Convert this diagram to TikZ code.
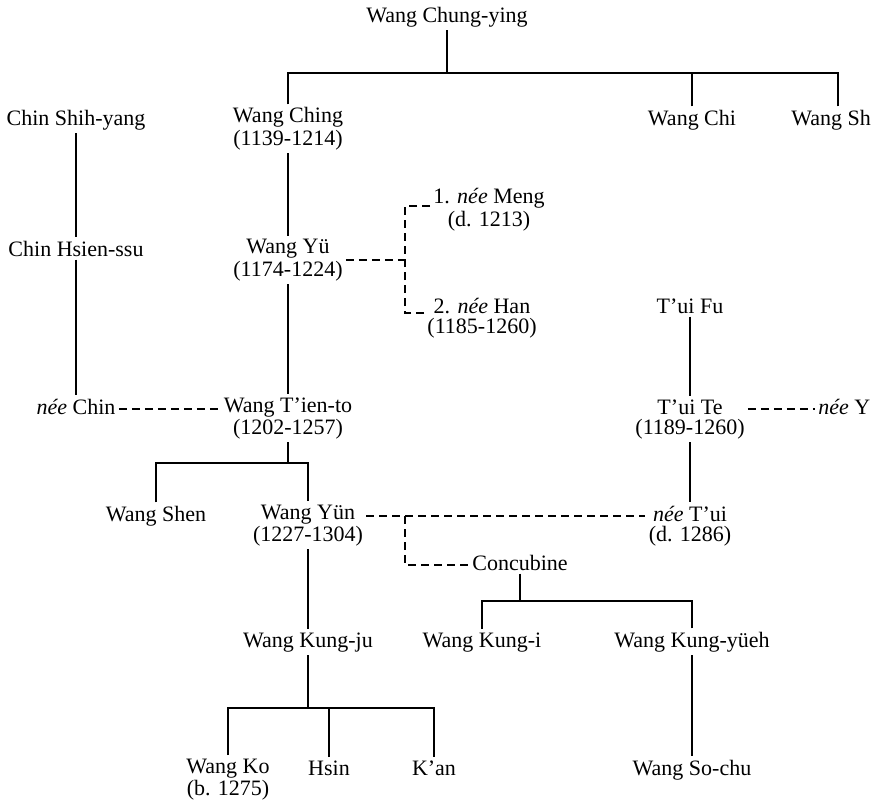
\documentclass[tikz,border=0pt]{standalone}
\usepackage{fontspec}
\setmainfont{Liberation Serif}
\usepackage{tikz}
\usetikzlibrary{positioning, calc}

\begin{document}
\begin{tikzpicture}[x=0.5pt, y=-0.5pt,
    person/.style={font=\fontsize{11}{10}\selectfont, align=center, inner sep=1.5pt, anchor=base},
    descent/.style={line width=1pt},
    marriage/.style={line width=1pt, dash pattern=on 4pt off 2.5pt}]
    \useasboundingbox (0,0) rectangle (873,805);

    % Nodes (two-line nodes sit on the base of their last line)
    \node[person] (chungying) at (447,22) {Wang Chung-ying};

    \node[person] (shihyang) at (76,125) {Chin Shih-yang};
    \node[person] (ching) at (288,145) {Wang Ching\\(1139-1214)};
    \node[person] (chi) at (692,125) {Wang Chi};
    \node[person, anchor=base west] (wangsh) at (788,125) {Wang Sh};

    \node[person] (meng) at (489,226) {1. \textit{née} Meng\\(d. 1213)};
    \node[person] (hsienssu) at (76,256) {Chin Hsien-ssu};
    \node[person] (yu) at (288,276) {Wang Yü\\(1174-1224)};
    \node[person] (han) at (482,333) {2. \textit{née} Han\\(1185-1260)};
    \node[person] (tuifu) at (690,313) {T’ui Fu};

    \node[person] (neechin) at (76,414) {\textit{née} Chin};
    \node[person] (tiento) at (288,434) {Wang T’ien-to\\(1202-1257)};
    \node[person] (tuite) at (690,434) {T’ui Te\\(1189-1260)};
    \node[person, anchor=base west] (neey) at (815,414) {\textit{née} Y};

    \node[person] (shen) at (156,521) {Wang Shen};
    \node[person] (yun) at (308,541) {Wang Yün\\(1227-1304)};
    \node[person] (neetui) at (690,541) {\textit{née} T’ui\\(d. 1286)};
    \node[person] (concubine) at (520,570) {Concubine};

    \node[person] (kungju) at (308,647) {Wang Kung-ju};
    \node[person] (kungi) at (482,647) {Wang Kung-i};
    \node[person] (kungyueh) at (692,647) {Wang Kung-yüeh};

    \node[person] (ko) at (228,795) {Wang Ko\\(b. 1275)};
    \node[person] (hsin) at (329,775) {Hsin};
    \node[person] (kan) at (434,775) {K’an};
    \node[person] (sochu) at (692,775) {Wang So-chu};

    % Branch points
    \coordinate (top) at (447,73);
    \coordinate (tientokids) at (288,463);
    \coordinate (concubinekids) at (520,601);
    \coordinate (kungjukids) at (308,708);
    \coordinate (wives) at (yu.east -| 405,0);
    \coordinate (yunwed) at ([yshift=10pt]yun.mid east);
    \coordinate (concjoin) at (yunwed -| wives);

    % Lines of descent
    \draw[descent] (chungying) -- (top);
    \draw[descent] (ching.north) |- (top);
    \draw[descent] (chi.north) |- (top);
    \draw[descent] (wangsh.north -| 838,0) |- (top);
    \draw[descent] (ching) -- (yu);
    \draw[descent] (yu) -- (tiento);
    \draw[descent] (shihyang) -- (hsienssu);
    \draw[descent] (hsienssu) -- (neechin);
    \draw[descent] (tiento) -- (tientokids);
    \draw[descent] (shen.north) |- (tientokids);
    \draw[descent] (yun.north) |- (tientokids);
    \draw[descent] (yun) -- (kungju);
    \draw[descent] (kungju) -- (kungjukids);
    \draw[descent] (ko.north) |- (kungjukids);
    \draw[descent] (hsin.north) |- (kungjukids);
    \draw[descent] (kan.north) |- (kungjukids);
    \draw[descent] (concubine) -- (concubinekids);
    \draw[descent] (kungi.north) |- (concubinekids);
    \draw[descent] (kungyueh.north) |- (concubinekids);
    \draw[descent] (kungyueh) -- (sochu);
    \draw[descent] (tuifu) -- (tuite);
    \draw[descent] (tuite) -- (neetui);

    % Marriages
    \draw[marriage] (neechin.mid east) -- ([yshift=10pt]tiento.mid west);
    \draw[marriage] (yu.east) -- (wives);
    \draw[marriage] ([yshift=10pt]meng.base west) -| (wives);
    \draw[marriage] ([yshift=10pt]han.base west) -| (wives);
    \draw[marriage] ([yshift=10pt]tuite.mid east) -- (neey.mid west);
    \draw[marriage] (yunwed) -- ([yshift=10pt]neetui.mid west);
    \draw[marriage] (concjoin) |- (concubine.mid west);
\end{tikzpicture}
\end{document}
